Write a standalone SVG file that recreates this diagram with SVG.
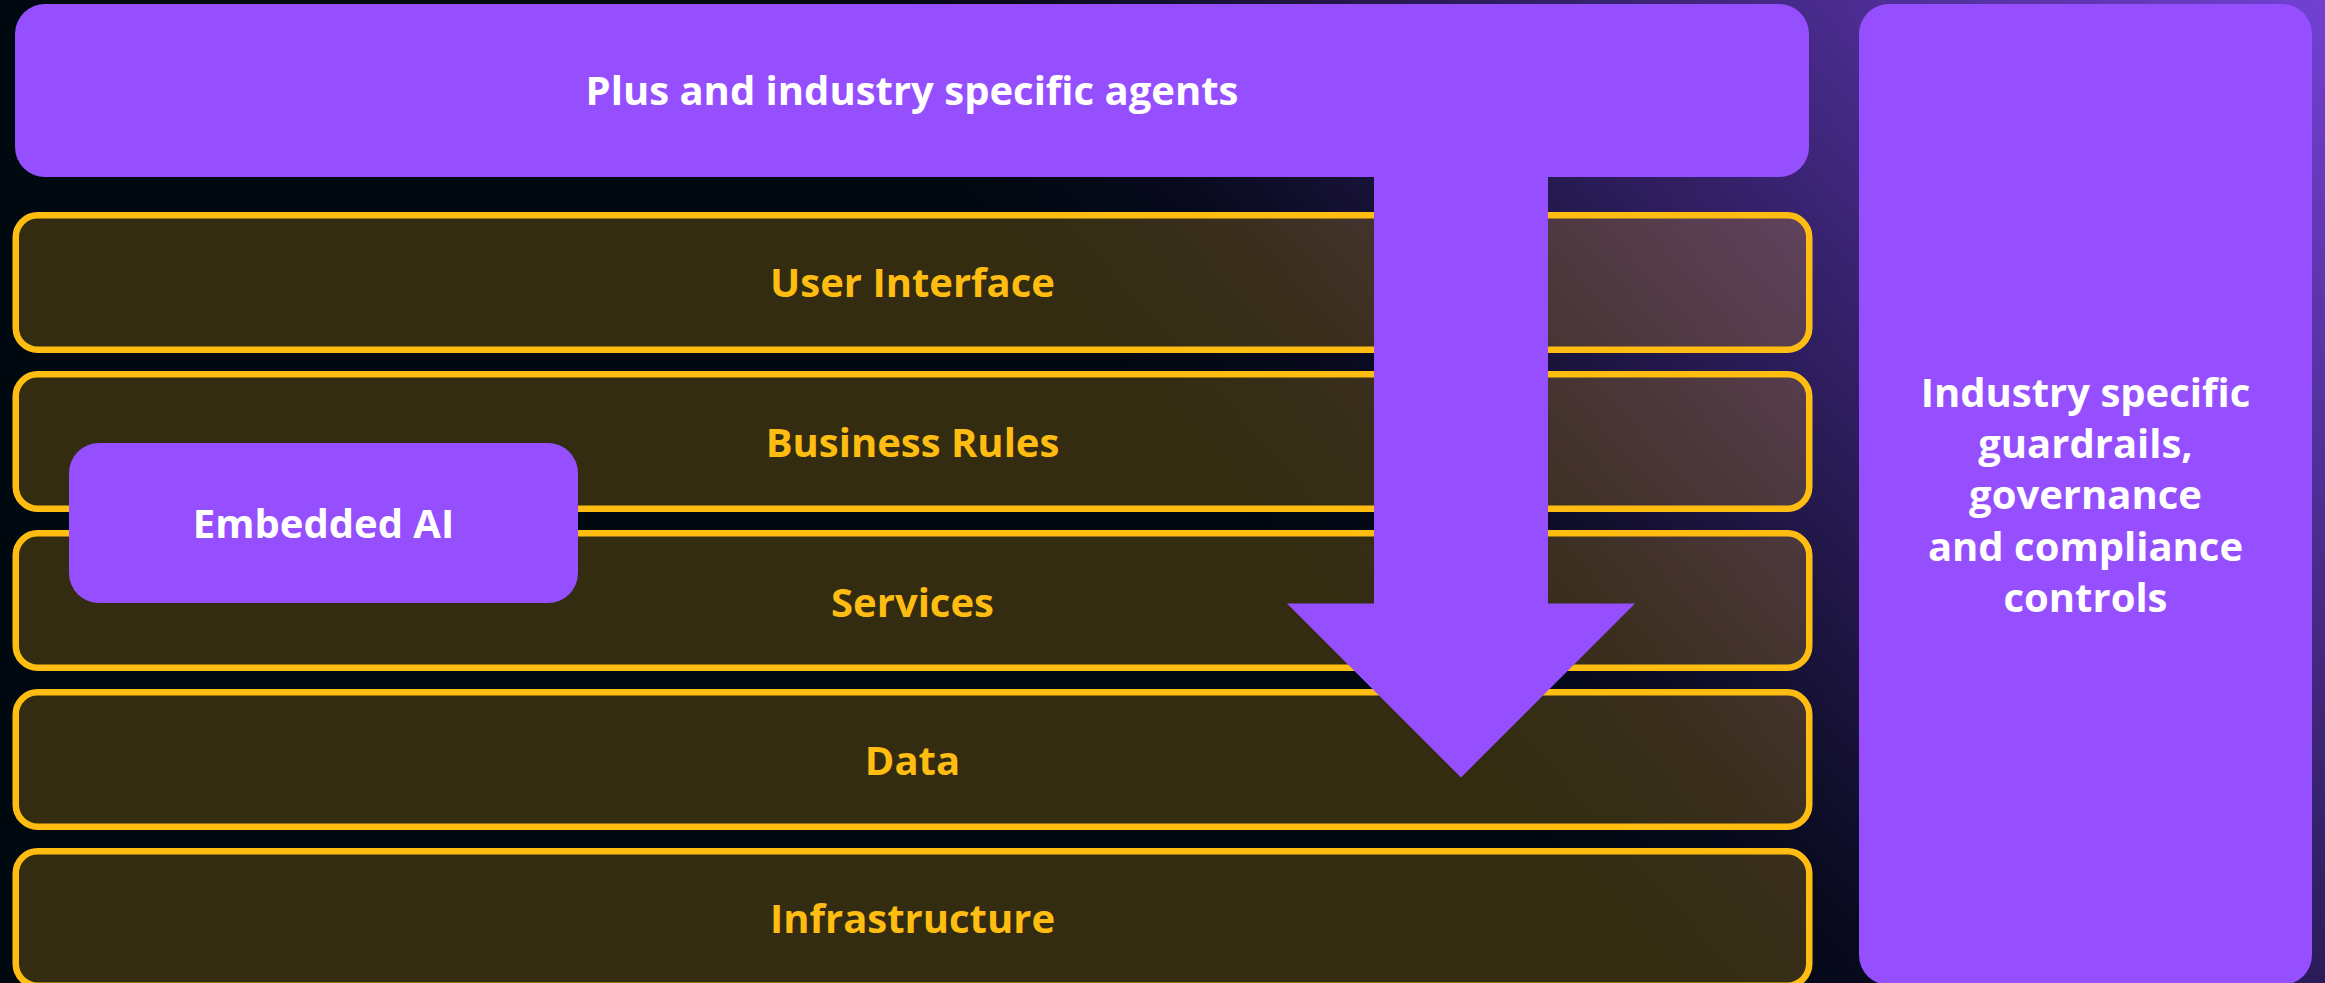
<svg xmlns="http://www.w3.org/2000/svg" width="2325" height="983" viewBox="0 0 2325 983">
  <defs>
    <linearGradient id="bg" gradientUnits="userSpaceOnUse" x1="800" y1="0" x2="1652" y2="-760">
      <stop offset="0" stop-color="#000810"/>
      <stop offset="0.14" stop-color="#080a1d"/>
      <stop offset="1" stop-color="#7341d4"/>
    </linearGradient>
    <style>
      .purple { fill: #964FFF; }
      .layer rect { fill: #FFBD12; fill-opacity: 0.2; stroke: #FFBD12; stroke-width: 6.5; }
      .layer text { fill: #FFBD12; }
      text { font-family: "Open Sans", "Liberation Sans", sans-serif; font-weight: 700; font-size: 40px; text-anchor: middle; }
      .white { fill: #FFFFFF; }
    </style>
  </defs>
  <rect x="0" y="0" width="2325" height="983" fill="url(#bg)"/>

  <g id="agents">
    <rect class="purple" x="15" y="4" width="1794" height="173" rx="30"/>
    <text class="white" x="912" y="105">Plus and industry specific agents</text>
  </g>

  <g id="user-interface" class="layer">
    <rect x="15.75" y="215.25" width="1793.5" height="134.5" rx="22"/>
    <text x="912.5" y="296.5">User Interface</text>
  </g>
  <g id="business-rules" class="layer">
    <rect x="15.75" y="374.25" width="1793.5" height="134.5" rx="22"/>
    <text x="912.5" y="456.5">Business Rules</text>
  </g>
  <g id="services" class="layer">
    <rect x="15.75" y="533.25" width="1793.5" height="134.5" rx="22"/>
    <text x="912.5" y="616.5">Services</text>
  </g>
  <g id="data" class="layer">
    <rect x="15.75" y="692.25" width="1793.5" height="134.5" rx="22"/>
    <text x="912.5" y="774.5">Data</text>
  </g>
  <g id="infrastructure" class="layer">
    <rect x="15.75" y="851.25" width="1793.5" height="134.5" rx="22"/>
    <text x="912.5" y="933">Infrastructure</text>
  </g>

  <g id="connectors">
    <polygon class="purple" points="1374,170 1548,170 1548,603.5 1635,603.5 1461,777.5 1287,603.5 1374,603.5"/>
  </g>

  <g id="embedded-ai">
    <rect class="purple" x="69" y="443" width="509" height="160" rx="30"/>
    <text class="white" x="323.5" y="537.5">Embedded AI</text>
  </g>

  <g id="guardrails">
    <rect class="purple" x="1859" y="4" width="453" height="981" rx="30"/>
    <text class="white" x="2085.5" y="407">Industry specific</text>
    <text class="white" x="2085.5" y="458">guardrails,</text>
    <text class="white" x="2085.5" y="509">governance</text>
    <text class="white" x="2085.5" y="560.5">and compliance</text>
    <text class="white" x="2085.5" y="611.5">controls</text>
  </g>
</svg>
